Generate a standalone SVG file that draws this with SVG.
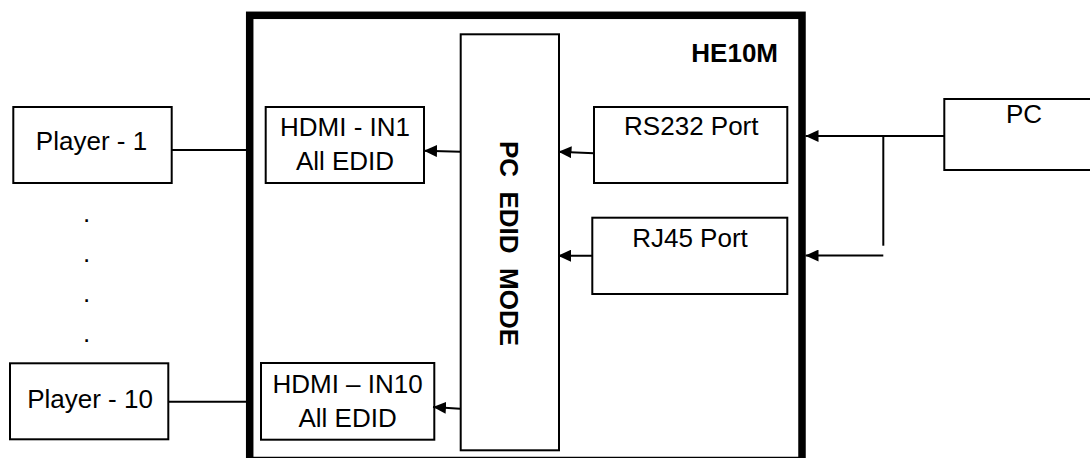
<svg xmlns="http://www.w3.org/2000/svg" width="1090" height="458" viewBox="0 0 1090 458">
<style>
text{font-family:"Liberation Sans",Arial,sans-serif;font-size:26px;fill:#000}
.b{font-weight:bold}
.box{fill:#fff;stroke:#000;stroke-width:2}
.ln{fill:none;stroke:#000;stroke-width:2}
.arr{fill:none;stroke:#000;stroke-width:2;marker-end:url(#ah)}
</style>
<defs>
<marker id="ah" markerUnits="userSpaceOnUse" markerWidth="13" markerHeight="12" refX="13" refY="6" orient="auto">
<path d="M0,0 L13,6 L0,12 z" fill="#000"/>
</marker>
</defs>
<rect width="1090" height="458" fill="#fff"/>
<g id="he10m">
<rect x="249.7" y="15.3" width="552.3" height="445.2" fill="#fff" stroke="#000" stroke-width="7.5"/>
<text class="b" x="778" y="62" text-anchor="end">HE10M</text>
</g>
<g id="player1">
<rect class="box" x="13.3" y="107" width="158.4" height="76"/>
<text x="91.5" y="150" text-anchor="middle">Player - 1</text>
</g>
<g id="dots">
<text x="86.7" y="221.5" text-anchor="middle">.</text>
<text x="86.7" y="261.5" text-anchor="middle">.</text>
<text x="86.7" y="301.5" text-anchor="middle">.</text>
<text x="86.7" y="341.5" text-anchor="middle">.</text>
</g>
<g id="player10">
<rect class="box" x="10" y="363.3" width="158.3" height="76"/>
<text x="90" y="408.3" text-anchor="middle">Player - 10</text>
</g>
<g id="hdmi1">
<rect class="box" x="265.7" y="107" width="158.3" height="76"/>
<text x="345" y="136" text-anchor="middle">HDMI - IN1</text>
<text x="345" y="170" text-anchor="middle">All EDID</text>
</g>
<g id="hdmi10">
<rect class="box" x="261" y="363" width="173.3" height="76.7"/>
<text x="347.6" y="393" text-anchor="middle">HDMI – IN10</text>
<text x="347.6" y="427.3" text-anchor="middle">All EDID</text>
</g>
<g id="pcedid">
<rect class="box" x="460.7" y="34.3" width="98.3" height="416"/>
<text class="b" transform="translate(500,243.5) rotate(90)" text-anchor="middle" word-spacing="7.2">PC EDID MODE</text>
</g>
<g id="rs232">
<rect class="box" x="594" y="107" width="193.3" height="76"/>
<text x="691.3" y="135" text-anchor="middle">RS232 Port</text>
</g>
<g id="rj45">
<rect class="box" x="592.3" y="217.7" width="195" height="76.3"/>
<text x="690" y="246.7" text-anchor="middle">RJ45 Port</text>
</g>
<g id="pc">
<rect class="box" x="944.3" y="99" width="160" height="71"/>
<text x="1024" y="123.3" text-anchor="middle">PC</text>
</g>
<g id="connectors">
<line class="ln" x1="171.7" y1="150" x2="246" y2="150"/>
<line class="ln" x1="168.3" y1="401.7" x2="246" y2="401.7"/>
<line class="arr" x1="460.7" y1="151.7" x2="424" y2="150.7"/>
<line class="arr" x1="460" y1="408.7" x2="433" y2="407"/>
<line class="arr" x1="594" y1="153.3" x2="558.5" y2="151.7"/>
<line class="arr" x1="592.3" y1="255.7" x2="558" y2="255.7"/>
<line class="arr" x1="944.3" y1="136" x2="805.5" y2="136"/>
<line class="ln" x1="883.3" y1="136" x2="883.3" y2="245.7"/>
<line class="arr" x1="883.3" y1="255.5" x2="805.5" y2="255.5"/>
</g>
</svg>
